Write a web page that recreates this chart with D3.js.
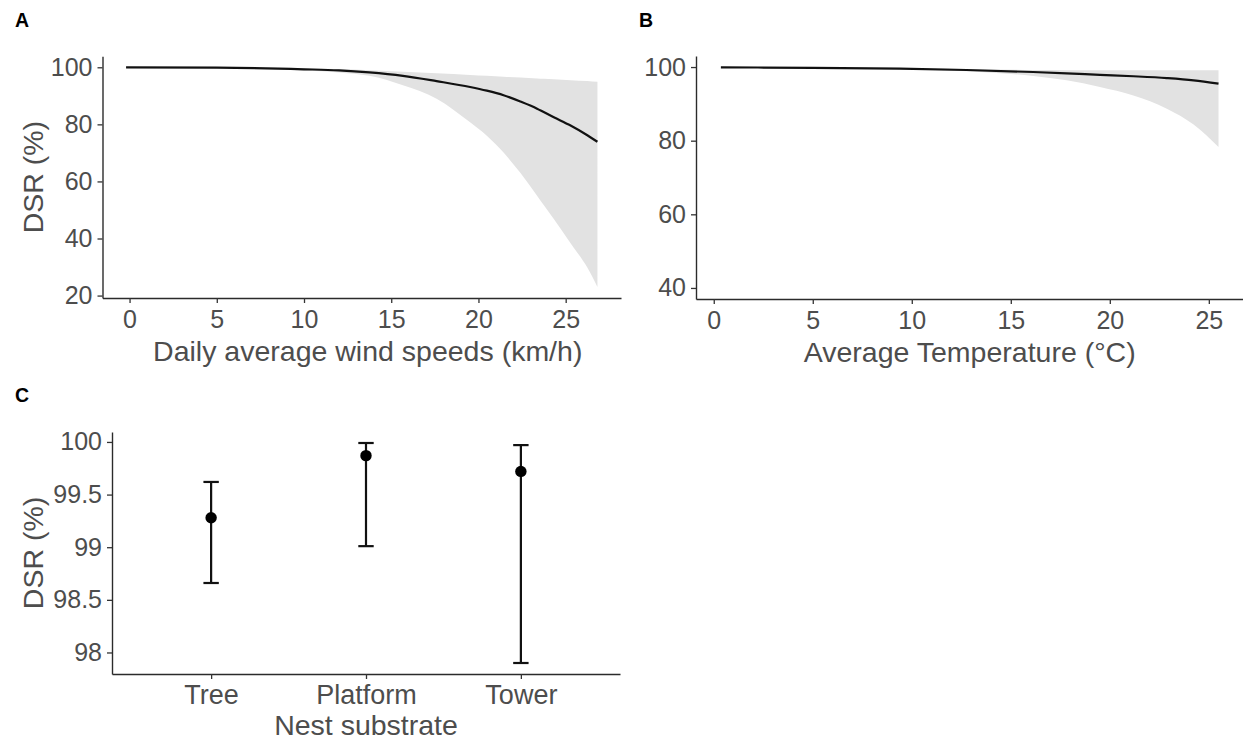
<!DOCTYPE html>
<html>
<head>
<meta charset="utf-8">
<script src="https://cdn.jsdelivr.net/npm/d3@7"></script>
<style>
  body { margin: 0; background: #fff; }
  svg { display: block; font-family: "Liberation Sans", Arial, sans-serif; }
  .tick text { fill: #4d4d4d; font-size: 25px; }
  .cat .tick text { font-size: 27px; }
  .tick line { stroke: #333; stroke-width: 1.3; }
  .domain { stroke: #2b2b2b; stroke-width: 1.4; }
  .ttl { fill: #4d4d4d; font-size: 28.5px; }
  .tag { fill: #000; font-size: 19.5px; font-weight: bold; }
</style>
</head>
<body>
<script>
"use strict";

///////////////////
// data
///////////////////

// panel A: wind speed
var windX     = [-0.2, 5, 10, 12, 13.75, 15.67, 17.6, 19.52, 20.48, 21.44, 22.4, 23.36, 23.74, 24.32, 25.28, 26.24, 26.82];
var windMean  = [100, 99.9, 99.3, 98.9, 98.2, 97.0, 95.15, 93.1, 91.8, 90.2, 88.0, 85.5, 84.3, 82.5, 79.6, 76.2, 73.9];
var windLower = [100, 99.8, 98.9, 98.2, 97.0, 93.7, 89.0, 80.7, 76.0, 70.1, 63.0, 55.0, 51.7, 46.8, 38.3, 29.8, 23.0];
var windUpper = [100, 100, 99.7, 99.4, 99.0, 98.4, 97.9, 97.3, 97.0, 96.7, 96.4, 96.1, 96.0, 95.8, 95.5, 95.2, 94.9];

// panel B: temperature
var tempX     = [0.36, 5, 9.39, 12.76, 16.13, 17.82, 19.5, 21.19, 22.88, 24.23, 25.49];
var tempMean  = [99.9, 99.8, 99.56, 99.2, 98.65, 98.3, 97.9, 97.5, 97.0, 96.4, 95.5];
var tempLower = [99.9, 99.7, 99.4, 98.84, 97.57, 96.4, 94.6, 92.3, 88.7, 84.4, 78.3];
var tempUpper = [99.95, 99.9, 99.7, 99.5, 99.2, 99.15, 99.1, 99.1, 99.1, 99.1, 99.1];
var tempLimits = [40, 100];

// panel C: nest substrate
var substrates = ["Tree", "Platform", "Tower"];
var subMean  = [99.28, 99.87, 99.72];
var subLower = [98.66, 99.01, 97.9];
var subUpper = [99.62, 99.99, 99.97];

var xTicks = [0, 5, 10, 15, 20, 25];

///////////////////
// helpers
///////////////////

// ggplot-like 5% expansion
function expand(ext) {
    var pad = (ext[1] - ext[0]) * 0.05;
    return [ext[0] - pad, ext[1] + pad];
}

function zip(xs, mean, lo, hi) {
    return xs.map(function(x, i) {
        return { x: x, m: mean[i], lo: lo[i], hi: hi[i] };
    });
}

var svg = d3.select("body").append("svg")
    .attr("width", 1243)
    .attr("height", 742);

function curvePanel(o) {
    var x = d3.scaleLinear().domain(expand(d3.extent(o.data, function(d) { return d.x; })))
        .range(o.xr);
    var y = d3.scaleLinear().domain(o.yDomain).range(o.yr);

    var g = svg.append("g");

    g.append("path")
        .datum(o.data)
        .attr("fill", "#e2e2e2")
        .attr("d", d3.area()
            .curve(d3.curveMonotoneX)
            .x(function(d) { return x(d.x); })
            .y0(function(d) { return y(d.lo); })
            .y1(function(d) { return y(d.hi); }));

    g.append("path")
        .datum(o.data)
        .attr("fill", "none")
        .attr("stroke", "#111")
        .attr("stroke-width", 2.2)
        .attr("d", d3.line()
            .curve(d3.curveMonotoneX)
            .x(function(d) { return x(d.x); })
            .y(function(d) { return y(d.m); }));

    g.append("g")
        .attr("transform", "translate(0," + o.yr[0] + ")")
        .call(d3.axisBottom(x).tickValues(xTicks).tickSize(5).tickPadding(7.5).tickSizeOuter(0));
    g.append("g")
        .attr("transform", "translate(" + o.xr[0] + ",0)")
        .call(d3.axisLeft(y).tickValues(o.yTicks).tickSize(5).tickPadding(5).tickSizeOuter(0));

    g.append("text").attr("class", "ttl")
        .attr("x", (o.xr[0] + o.xr[1]) / 2 + (o.titleShift || 0))
        .attr("y", o.yr[0] + 63)
        .attr("text-anchor", "middle")
        .text(o.xTitle);
    if (o.yTitle) {
        g.append("text").attr("class", "ttl")
            .attr("transform", "translate(43," + (o.yr[0] + o.yr[1]) / 2 + ") rotate(-90)")
            .attr("text-anchor", "middle")
            .text(o.yTitle);
    }
    g.append("text").attr("class", "tag")
        .attr("x", o.tag[1]).attr("y", o.tag[2])
        .text(o.tag[0]);
}

///////////////////
// A
///////////////////
curvePanel({
    data: zip(windX, windMean, windLower, windUpper),
    xr: [102.5, 621],
    yr: [298, 56.3],
    yDomain: expand([d3.min(windLower), d3.max(windUpper)]),
    yTicks: [20, 40, 60, 80, 100],
    xTitle: "Daily average wind speeds (km/h)",
    titleShift: 6,
    yTitle: "DSR (%)",
    tag: ["A", 15, 27]
});

///////////////////
// B
///////////////////
curvePanel({
    data: zip(tempX, tempMean, tempLower, tempUpper),
    xr: [696, 1243.4],
    yr: [299, 56],
    yDomain: expand(tempLimits),
    yTicks: [40, 60, 80, 100],
    xTitle: "Average Temperature (°C)",
    yTitle: null,
    tag: ["B", 639, 27]
});

///////////////////
// C
///////////////////
(function() {
    var xr = [112, 620], yr = [674, 432];
    var x = d3.scalePoint().domain(substrates).range(xr).padding(0.64);
    var y = d3.scaleLinear()
        .domain(expand([d3.min(subLower), d3.max(subUpper)]))
        .range(yr);
    var pts = substrates.map(function(s, i) {
        return { s: s, m: subMean[i], lo: subLower[i], hi: subUpper[i] };
    });
    var g = svg.append("g");
    var cap = 7.7;

    var bars = g.selectAll("g.bar").data(pts).enter().append("g")
        .attr("class", "bar")
        .attr("stroke", "#111")
        .attr("stroke-width", 2.2);
    bars.append("line")
        .attr("x1", function(d) { return x(d.s); })
        .attr("x2", function(d) { return x(d.s); })
        .attr("y1", function(d) { return y(d.lo); })
        .attr("y2", function(d) { return y(d.hi); });
    bars.append("line")
        .attr("x1", function(d) { return x(d.s) - cap; })
        .attr("x2", function(d) { return x(d.s) + cap; })
        .attr("y1", function(d) { return y(d.hi); })
        .attr("y2", function(d) { return y(d.hi); });
    bars.append("line")
        .attr("x1", function(d) { return x(d.s) - cap; })
        .attr("x2", function(d) { return x(d.s) + cap; })
        .attr("y1", function(d) { return y(d.lo); })
        .attr("y2", function(d) { return y(d.lo); });
    g.selectAll("circle").data(pts).enter().append("circle")
        .attr("cx", function(d) { return x(d.s); })
        .attr("cy", function(d) { return y(d.m); })
        .attr("r", 5.7)
        .attr("fill", "#000");

    g.append("g")
        .attr("class", "cat")
        .attr("transform", "translate(0," + yr[0] + ")")
        .call(d3.axisBottom(x).tickSize(5).tickPadding(5.5).tickSizeOuter(0));
    g.append("g")
        .attr("transform", "translate(" + xr[0] + ",0)")
        .call(d3.axisLeft(y).tickValues([98, 98.5, 99, 99.5, 100]).tickFormat(d3.format("~g"))
            .tickSize(5).tickPadding(5).tickSizeOuter(0));

    g.append("text").attr("class", "ttl")
        .attr("x", (xr[0] + xr[1]) / 2)
        .attr("y", yr[0] + 61)
        .attr("text-anchor", "middle")
        .text("Nest substrate");
    g.append("text").attr("class", "ttl")
        .attr("transform", "translate(43," + (yr[0] + yr[1]) / 2 + ") rotate(-90)")
        .attr("text-anchor", "middle")
        .text("DSR (%)");
    g.append("text").attr("class", "tag")
        .attr("x", 15).attr("y", 402)
        .text("C");
})();
</script>
</body>
</html>
